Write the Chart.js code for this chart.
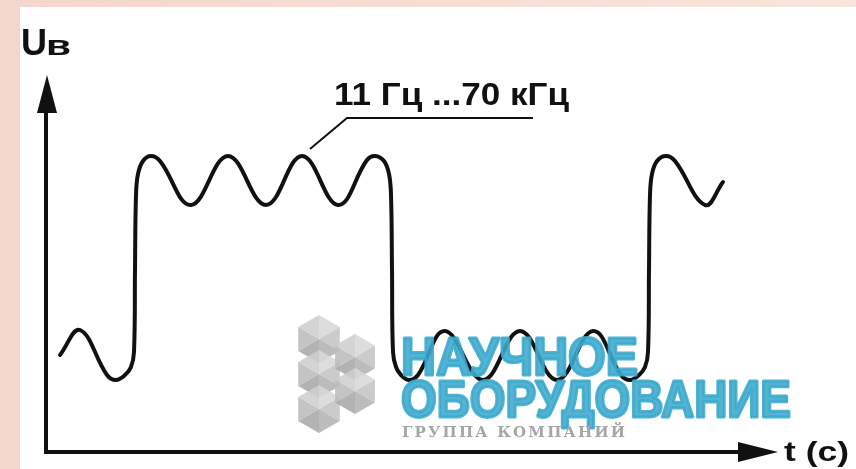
<!DOCTYPE html>
<html>
<head>
<meta charset="utf-8">
<script src="https://cdn.jsdelivr.net/npm/chart.js@4.4.1/dist/chart.umd.min.js"></script>
<style>
  html, body { margin: 0; padding: 0; background: #fff; }
  #wrap { width: 856px; height: 469px; }
</style>
</head>
<body>
<div id="wrap"><canvas id="signalChart" width="856" height="469"></canvas></div>
<script>
// waveform points (t from the U axis, U up from the t axis)
var timeVals = [14, 34, 61, 70, 79, 85, 88, 89, 90, 92, 97, 105, 114, 145, 182, 220, 256, 292, 321, 329, 338, 343, 345, 346, 347, 350, 355, 363, 372, 399, 437, 474, 511, 547, 575, 584, 593, 599, 602, 603, 604, 606, 611, 620, 629, 659, 677];
var voltVals = [97, 122, 77, 72, 77, 85, 100, 182, 257, 278, 291, 296, 291, 247, 296, 247, 296, 247, 292, 296, 291, 278, 257, 182, 100, 85, 77, 72, 77, 121, 72, 121, 72, 121, 77, 72, 77, 85, 100, 182, 257, 278, 291, 296, 291, 247, 270];

// axis ranges (arrow tips)
var tRange = [0, 732];
var uRange = [0, 377];

// leader line for the frequency label
var leaderT = [264, 301, 487];
var leaderU = [303, 334, 334];

var freqLabel = '11 Гц ...70 кГц';
var uLabel = ['U', 'в'];
var tLabel = 't (c)';
var logoLines = ['НАУЧНОЕ', 'ОБОРУДОВАНИЕ', 'ГРУППА КОМПАНИЙ'];

var INK = '#111';
var LOGO_BLUE = '#3aa9cd';

function fitText(ctx, txt, font, x, baseline, width, color, thick) {
    ctx.save();
    ctx.font = font;
    var w = ctx.measureText(txt).width;
    ctx.translate(x, baseline);
    ctx.scale(width / w, 1);
    ctx.fillStyle = color;
    ctx.textAlign = 'left';
    ctx.textBaseline = 'alphabetic';
    ctx.fillText(txt, 0, 0);
    if (thick) {
        ctx.strokeStyle = color;
        ctx.lineWidth = thick;
        ctx.lineJoin = 'round';
        ctx.strokeText(txt, 0, 0);
    }
    ctx.restore();
}

function spacedText(ctx, txt, font, x, baseline, width, color) {
    ctx.save();
    ctx.font = font;
    ctx.fillStyle = color;
    ctx.textBaseline = 'alphabetic';
    var chars = txt.split('');
    var total = 0;
    chars.forEach(function(c) { total += ctx.measureText(c).width; });
    var gap = (width - total) / (chars.length - 1);
    var cx = x;
    chars.forEach(function(c) {
        ctx.fillText(c, cx, baseline);
        cx += ctx.measureText(c).width + gap;
    });
    ctx.restore();
}

function drawHex(ctx, cx, cy, r, shades) {
    for (var i = 0; i < 6; i++) {
        var a1 = -Math.PI / 2 + i * Math.PI / 3;
        var a2 = a1 + Math.PI / 3;
        ctx.beginPath();
        ctx.moveTo(cx, cy);
        ctx.lineTo(cx + r * Math.cos(a1), cy + r * Math.sin(a1));
        ctx.lineTo(cx + r * Math.cos(a2), cy + r * Math.sin(a2));
        ctx.closePath();
        ctx.fillStyle = shades[i];
        ctx.fill();
    }
}

var framePlugin = {
    id: 'frame',
    beforeDraw: function(chart) {
        var ctx = chart.ctx;
        ctx.save();
        ctx.fillStyle = '#f3d6ce';
        ctx.fillRect(0, 0, chart.width, chart.height);
        var g = ctx.createLinearGradient(0, 0, chart.width, 0);
        g.addColorStop(0, '#f3d6ce');
        g.addColorStop(1, '#f9e5db');
        ctx.fillStyle = g;
        ctx.fillRect(0, 0, chart.width, 7);
        ctx.fillStyle = '#ffffff';
        ctx.fillRect(20, 7, chart.width - 20, chart.height - 7);
        ctx.restore();
    },
    afterDatasetsDraw: function(chart) {
        // watermark logo over the curve
        var ctx = chart.ctx;
        ctx.save();
        ctx.globalAlpha = 0.88;
        var shades = ['#d8d8d8', '#c4c4c4', '#b3b3b3', '#a9a9a9', '#bcbcbc', '#cecece'];
        drawHex(ctx, 319, 339, 24, shades);
        drawHex(ctx, 319, 374, 24, shades);
        drawHex(ctx, 319, 409, 24, shades);
        drawHex(ctx, 355, 357, 23, shades);
        drawHex(ctx, 355, 391, 23, shades);
        fitText(ctx, logoLines[0], 'bold 54px "Liberation Sans"', 401, 375, 237, LOGO_BLUE, 3);
        fitText(ctx, logoLines[1], 'bold 51px "Liberation Sans"', 401, 417, 390, LOGO_BLUE, 3);
        ctx.restore();
        spacedText(ctx, logoLines[2], 'bold 15px "DejaVu Serif"', 402, 437, 223, '#a6a6a6');
    },
    afterDraw: function(chart) {
        var ctx = chart.ctx;
        var a = chart.chartArea;
        var xs = chart.scales.x, ys = chart.scales.y;
        ctx.save();
        ctx.strokeStyle = INK;
        ctx.fillStyle = INK;
        ctx.lineWidth = 4;
        ctx.lineCap = 'butt';
        // t axis
        ctx.beginPath();
        ctx.moveTo(a.left - 2, a.bottom);
        ctx.lineTo(a.right - 30, a.bottom);
        ctx.stroke();
        ctx.beginPath();
        ctx.moveTo(a.right, a.bottom);
        ctx.lineTo(a.right - 40, a.bottom - 10);
        ctx.lineTo(a.right - 40, a.bottom + 10);
        ctx.closePath();
        ctx.fill();
        // U axis
        ctx.beginPath();
        ctx.moveTo(a.left, a.bottom + 2);
        ctx.lineTo(a.left, a.top + 30);
        ctx.stroke();
        ctx.beginPath();
        ctx.moveTo(a.left + 1, a.top);
        ctx.lineTo(a.left - 9, a.top + 38);
        ctx.lineTo(a.left + 11, a.top + 38);
        ctx.closePath();
        ctx.fill();
        // leader line
        ctx.lineWidth = 2;
        ctx.beginPath();
        leaderT.forEach(function(t, i) {
            var px = xs.getPixelForValue(t), py = ys.getPixelForValue(leaderU[i]);
            if (i === 0) ctx.moveTo(px, py); else ctx.lineTo(px, py);
        });
        ctx.stroke();
        ctx.restore();

        // labels
        fitText(ctx, uLabel[0], 'bold 36px "Liberation Sans"', 21, 55, 26, INK);
        fitText(ctx, uLabel[1], 'bold 28px "Liberation Sans"', 46, 55, 25, INK);
        fitText(ctx, freqLabel, 'bold 31px "Liberation Sans"', 334, 105, 235, INK);
        fitText(ctx, tLabel, 'bold 27px "Liberation Sans"', 784, 461, 65, INK);
    }
};

var points = timeVals.map(function(t, i) { return { x: t, y: voltVals[i] }; });

new Chart(document.getElementById('signalChart').getContext('2d'), {
    type: 'line',
    data: {
        datasets: [{
            label: 'U',
            data: points,
            borderColor: INK,
            borderWidth: 4,
            borderCapStyle: 'round',
            borderJoinStyle: 'round',
            pointRadius: 0,
            fill: false,
            tension: 0.4,
            clip: false
        }]
    },
    options: {
        responsive: false,
        animation: false,
        devicePixelRatio: 1,
        layout: { padding: { left: 46, right: 78, top: 75, bottom: 17 } },
        plugins: {
            legend: { display: false },
            tooltip: { enabled: false },
            title: { display: false }
        },
        scales: {
            x: { type: 'linear', display: false, min: tRange[0], max: tRange[1] },
            y: { type: 'linear', display: false, min: uRange[0], max: uRange[1] }
        }
    },
    plugins: [framePlugin]
});
</script>
</body>
</html>
